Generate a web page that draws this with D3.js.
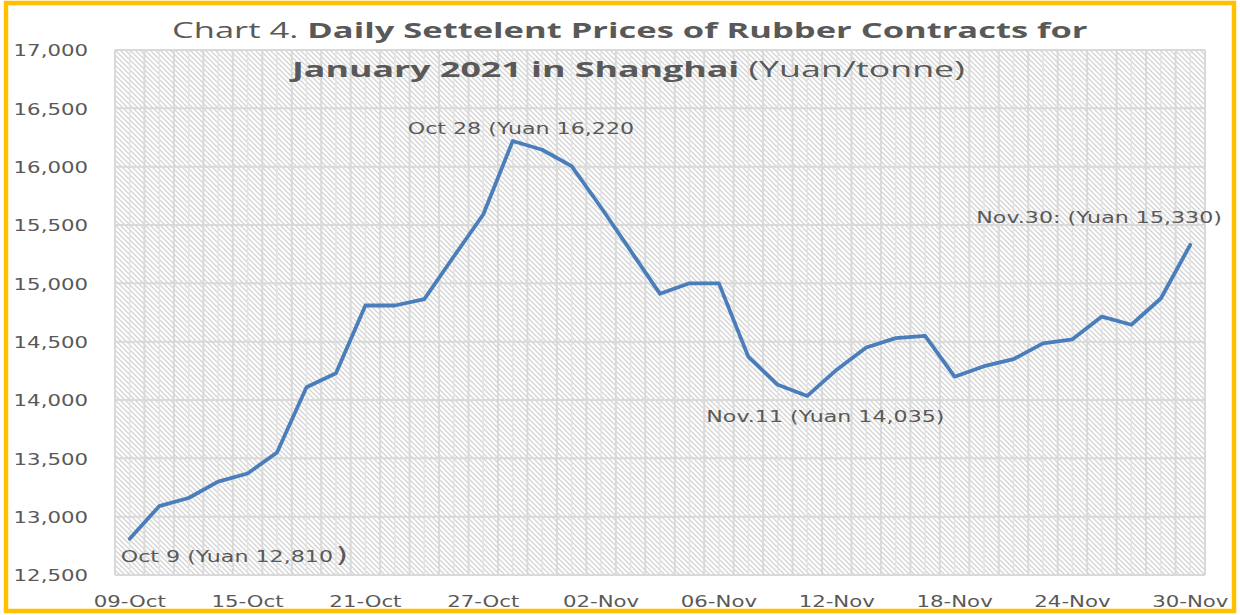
<!DOCTYPE html>
<html>
<head>
<meta charset="utf-8">
<script src="https://cdn.jsdelivr.net/npm/d3@7"></script>
<style>
  html, body { margin: 0; padding: 0; background: #fff; }
  svg { display: block; }
</style>
</head>
<body>
<svg id="chart" width="1240" height="615"></svg>
<script>
// ---- data ----
const categories = ["09-Oct","12-Oct","13-Oct","14-Oct","15-Oct","16-Oct","19-Oct","20-Oct","21-Oct","22-Oct","23-Oct","26-Oct","27-Oct","28-Oct","29-Oct","30-Oct","02-Nov","03-Nov","04-Nov","05-Nov","06-Nov","09-Nov","10-Nov","11-Nov","12-Nov","13-Nov","16-Nov","17-Nov","18-Nov","19-Nov","20-Nov","23-Nov","24-Nov","25-Nov","26-Nov","27-Nov","30-Nov"];
const prices = [12810,13090,13160,13300,13370,13550,14110,14230,14810,14810,14865,15230,15590,16220,16145,16005,15650,15280,14910,15000,15000,14370,14130,14035,14260,14450,14530,14550,14200,14290,14350,14485,14520,14715,14645,14870,15330];
const xTickLabels = ["09-Oct","15-Oct","21-Oct","27-Oct","02-Nov","06-Nov","12-Nov","18-Nov","24-Nov","30-Nov"];
const yTicks = [12500,13000,13500,14000,14500,15000,15500,16000,16500,17000];
const titleLine1 = [["Chart 4. ", 400], ["Daily Settelent Prices of Rubber Contracts for", 700]];
const titleLine2 = [["January 2021 in Shanghai", 700], [" (Yuan/tonne)", 400]];
const annotations = [
  { cat: "09-Oct", text: "Oct 9 (Yuan 12,810", tail: ")" },
  { cat: "28-Oct", text: "Oct 28 (Yuan 16,220", tail: "" },
  { cat: "11-Nov", text: "Nov.11 (Yuan 14,035)", tail: "" },
  { cat: "30-Nov", text: "Nov.30: (Yuan 15,330)", tail: "" }
];

// ---- layout ----
const W = 1240, H = 615;
const plot = { left: 115, right: 1205, top: 50, bottom: 575 };
const K = 1.33;              // horizontal text stretch (axes)
const KA = 1.43;             // horizontal text stretch (annotations)
const TXT = "#595959";
const FONT = "DejaVu Sans, Verdana, sans-serif";
const annOffsets = { "09-Oct": [-9, 23], "28-Oct": [-105, -7], "11-Nov": [-101, 26], "30-Nov": [-214, -22] };

const svg = d3.select("#chart");

// border
svg.append("rect").attr("x", 6).attr("y", 3).attr("width", 1228).attr("height", 608)
  .attr("fill", "#fff").attr("stroke", "#FFC000").attr("stroke-width", 4.5);

const x = d3.scaleBand().domain(categories).range([plot.left, plot.right]).paddingInner(0).paddingOuter(0);
const y = d3.scaleLinear().domain([12500, 17000]).range([plot.bottom, plot.top]);
const cx = c => x(c) + x.bandwidth() / 2;

// hatch pattern
const defs = svg.append("defs");
const pat = defs.append("pattern").attr("id", "hatch").attr("patternUnits", "userSpaceOnUse")
  .attr("width", 5).attr("height", 5);
pat.append("rect").attr("width", 5).attr("height", 5).attr("fill", "#fff");
pat.append("path").attr("d", "M-1,-1 L6,6 M-1,4 L1,6 M4,-1 L6,1")
  .attr("stroke", "#d4d4d4").attr("stroke-width", 1.3);

svg.append("rect").attr("x", plot.left).attr("y", plot.top)
  .attr("width", plot.right - plot.left).attr("height", plot.bottom - plot.top)
  .attr("fill", "url(#hatch)");

// minor vertical gridlines (category centers)
svg.append("g").selectAll("line").data(categories).join("line")
  .attr("x1", d => cx(d)).attr("x2", d => cx(d))
  .attr("y1", plot.top).attr("y2", plot.bottom)
  .attr("stroke", "#e3e3e3").attr("stroke-width", 1.5);

// major vertical gridlines (category boundaries)
const bounds = categories.map(c => x(c)).concat([plot.right]);
svg.append("g").selectAll("line").data(bounds).join("line")
  .attr("x1", d => d).attr("x2", d => d)
  .attr("y1", plot.top).attr("y2", plot.bottom)
  .attr("stroke", "#d9d9d9").attr("stroke-width", 2);

// horizontal gridlines
svg.append("g").selectAll("line").data(yTicks).join("line")
  .attr("x1", plot.left).attr("x2", plot.right)
  .attr("y1", d => y(d)).attr("y2", d => y(d))
  .attr("stroke", "#d9d9d9").attr("stroke-width", 2);

// y axis labels
const yAxis = svg.append("g").attr("transform", `translate(${plot.left},0)`)
  .call(d3.axisLeft(y).tickValues(yTicks).tickFormat(d3.format(",")).tickSize(0));
yAxis.select(".domain").remove();
yAxis.selectAll("text")
  .attr("x", 0).attr("dy", "0.36em")
  .attr("transform", `translate(-27,0) scale(${K},1)`)
  .attr("fill", TXT).style("font-family", FONT).style("font-size", "16px");

// x axis labels
const xAxis = svg.append("g").attr("transform", `translate(0,${plot.bottom})`)
  .call(d3.axisBottom(x).tickValues(xTickLabels).tickSize(0));
xAxis.select(".domain").remove();
xAxis.selectAll("text")
  .attr("y", 0).attr("dy", "0.36em")
  .attr("transform", `translate(0,26) scale(${K},1)`)
  .attr("fill", TXT).style("font-family", FONT).style("font-size", "16px");

// line
const line = d3.line().x((d, i) => cx(categories[i])).y(d => y(d)).curve(d3.curveLinear);
svg.append("path").datum(prices).attr("d", line)
  .attr("fill", "none").attr("stroke", "#4A7EBB").attr("stroke-width", 3.8)
  .attr("stroke-linejoin", "round").attr("stroke-linecap", "round");

// annotations
annotations.forEach(a => {
  const i = categories.indexOf(a.cat);
  const px = cx(a.cat), py = y(prices[i]);
  const [dx, dy] = annOffsets[a.cat];
  const t = svg.append("text")
    .attr("transform", `translate(${px + dx},${py + dy}) scale(${KA},1)`)
    .attr("fill", TXT).style("font-family", FONT).style("font-size", "15.5px");
  t.append("tspan").text(a.text);
  if (a.tail) t.append("tspan").attr("dx", 2).style("font-size", "22px").text(a.tail);
});

// title
function titleLine(parts, centerX, baseline, targetW) {
  const t = svg.append("text").attr("fill", TXT)
    .style("font-family", "'Open Sans', 'Noto Sans', sans-serif").style("font-size", "22px")
    .attr("text-anchor", "start");
  parts.forEach(([s, w]) => t.append("tspan").style("font-weight", w).text(s));
  const w0 = t.node().getComputedTextLength();
  const k = targetW / w0;
  t.attr("transform", `translate(${centerX - targetW / 2},${baseline}) scale(${k},1)`);
}
titleLine(titleLine1, 630, 38, 916);
titleLine(titleLine2, 628.5, 77, 673);
</script>
</body>
</html>
